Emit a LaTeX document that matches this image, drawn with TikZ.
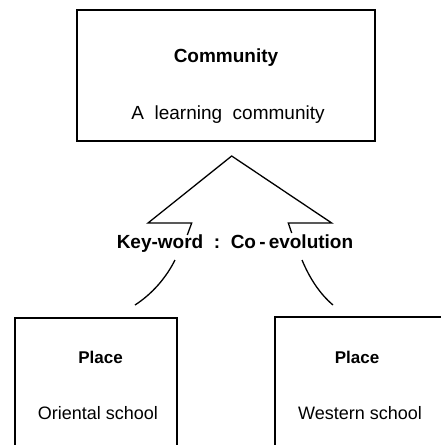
\documentclass[tikz,border=0pt]{standalone}
\usepackage{fontspec}
\setmainfont{Liberation Sans}
\begin{document}
\begin{tikzpicture}[x=1pt,y=-1pt,
  box/.style={draw,line width=1.4pt,inner sep=0pt},
  ttl/.style={font=\fontsize{19}{22}\selectfont\bfseries,inner sep=0pt},
  sub/.style={font=\fontsize{19}{22}\selectfont,inner sep=0pt},
  pttl/.style={font=\fontsize{17}{20}\selectfont\bfseries,inner sep=0pt},
  psub/.style={font=\fontsize{18}{21}\selectfont,inner sep=0pt},
  link/.style={line width=1.3pt}]
\useasboundingbox (0,0) rectangle (441,445);
\clip (0,0) rectangle (441,445);
% top box
\node[box,minimum width=298pt,minimum height=131pt] (comm) at (226,75.5) {};
\node[ttl] (commt) at (226,58) {Community};
\node[sub] (comms) at (228,115) {A\ \ learning\ \ community};
% keyword
\node[font=\fontsize{19}{22}\selectfont\bfseries,inner sep=0pt] (kw) at (235,244) {Key-word\ \ :\ \ Co\,-\,evolution};
% roof shape
\coordinate (apex) at (231.7,156);
\coordinate (lf) at (148,223);
\coordinate (li) at (191.7,223);
\coordinate (lt) at (187.3,235);
\coordinate (rf) at (331.7,223);
\coordinate (ri) at (288.3,223);
\coordinate (rt) at (291.7,233);
\draw[link,line join=miter] (lt) -- (li) -- (lf) -- (apex) -- (rf) -- (ri) -- (rt);
% lower connectors
\coordinate (ls) at (175,260);
\coordinate (le) at (135,305);
\coordinate (rs) at (302,260);
\coordinate (re) at (333,305);
\draw[link] (ls) .. controls (166,278) and (152,294) .. (le);
\draw[link] (rs) .. controls (310,279) and (320,294) .. (re);
% lower boxes
\node[box,minimum width=162pt,minimum height=160pt] (left) at (96,398) {};
\node[box,minimum width=180pt,minimum height=160pt] (right) at (365,397) {};
\node[pttl] (lp) at (100.5,357) {Place};
\node[psub] (ls2) at (98,413) {Oriental school};
\node[pttl] (rp) at (357,357) {Place};
\node[psub] (rs2) at (360,413) {Western school};
\end{tikzpicture}
\end{document}
